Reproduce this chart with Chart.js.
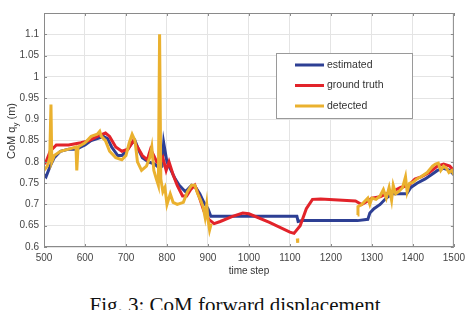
<!DOCTYPE html>
<html>
<head>
<meta charset="utf-8">
<script src="https://cdn.jsdelivr.net/npm/chart.js@4"></script>
<style>
  html, body { margin:0; padding:0; background:#fff; overflow:hidden; }
  #wrap { position:relative; width:470px; height:310px; overflow:hidden; }
  #c { position:absolute; left:0; top:0; }
  #cap { position:absolute; left:0; width:470px; top:293px; text-align:center;
         font-family:"Liberation Serif", "DejaVu Serif", serif; font-size:21px; color:#111; white-space:nowrap; }
</style>
</head>
<body>
<div id="wrap">
  <canvas id="c" width="470" height="276"></canvas>
  <div id="cap">Fig. 3: CoM forward displacement</div>
</div>
<script>
/* ===== data ===== */
const xTicks = [500, 600, 700, 800, 900, 1000, 1100, 1200, 1300, 1400, 1500];
const yTicks = [0.6, 0.65, 0.7, 0.75, 0.8, 0.85, 0.9, 0.95, 1, 1.05, 1.1];

const estX = [500,505,515,525,540,560,580,590,600,615,630,645,655,665,680,690,700,715,722,730,740,755,770,782,788,792,800,810,820,830,845,860,870,880,890,900,907,1000,1117,1120,1130,1265,1290,1295,1305,1320,1335,1350,1385,1395,1410,1430,1445,1460,1475,1490,1500];
const estY = [0.77,0.765,0.79,0.81,0.825,0.83,0.83,0.835,0.84,0.85,0.855,0.86,0.855,0.835,0.815,0.815,0.825,0.845,0.85,0.83,0.81,0.8,0.795,0.785,0.79,0.845,0.8,0.78,0.76,0.745,0.73,0.745,0.74,0.725,0.705,0.69,0.672,0.672,0.672,0.66,0.662,0.662,0.665,0.68,0.69,0.7,0.715,0.725,0.725,0.74,0.75,0.76,0.77,0.78,0.785,0.78,0.77];

const truthX = [500,505,515,530,560,590,610,630,650,660,675,690,705,718,728,740,752,760,768,775,782,790,798,805,815,825,838,848,858,868,878,890,902,915,930,960,985,1000,1050,1100,1110,1125,1140,1155,1175,1260,1275,1290,1300,1320,1335,1350,1370,1390,1405,1420,1440,1460,1475,1490,1500];
const truthY = [0.795,0.8,0.825,0.84,0.84,0.845,0.85,0.86,0.868,0.86,0.835,0.825,0.83,0.85,0.835,0.815,0.805,0.83,0.815,0.8,0.795,0.81,0.78,0.8,0.77,0.745,0.72,0.72,0.735,0.745,0.72,0.685,0.665,0.655,0.66,0.672,0.68,0.678,0.658,0.635,0.632,0.65,0.69,0.712,0.713,0.708,0.7,0.708,0.715,0.718,0.725,0.73,0.74,0.745,0.76,0.765,0.775,0.79,0.795,0.79,0.78];

const detX = [500,508,514,517,519,525,540,560,578,580,583,600,615,630,636,640,650,660,675,690,700,708,715,722,728,738,750,758,763,768,774,779,782,785,790,795,800,808,815,825,840,850,860,868,875,882,888,893,897,900,904,908,1000,1118,1119,1200,1265,1266,1275,1290,1295,1300,1310,1320,1328,1335,1342,1348,1352,1358,1365,1375,1382,1386,1392,1400,1410,1420,1435,1448,1455,1462,1468,1475,1482,1488,1495,1500];
const detY = [0.78,0.79,0.81,0.935,0.8,0.815,0.825,0.83,0.835,0.78,0.835,0.845,0.86,0.865,0.872,0.86,0.85,0.825,0.81,0.805,0.815,0.845,0.865,0.85,0.8,0.78,0.79,0.81,0.835,0.78,0.76,0.745,1.1,0.76,0.73,0.74,0.7,0.725,0.705,0.7,0.705,0.73,0.745,0.745,0.725,0.71,0.695,0.67,0.7,0.665,0.64,0.655,null,0.62,0.61,null,0.675,0.695,0.7,0.715,0.7,0.715,0.712,0.72,0.735,0.715,0.74,0.71,0.745,0.725,0.73,0.74,0.765,0.73,0.75,0.752,0.76,0.765,0.775,0.79,0.795,0.797,0.78,0.79,0.785,0.775,0.78,0.77];

const seriesNames = ['estimated', 'ground truth', 'detected'];
const seriesColors = ['#2d3f94', '#e2232a', '#eab12f'];

const pts = (xs, ys) => xs.map((x, i) => ({ x, y: ys[i] }));
const FONT = '"Liberation Sans", Arial, sans-serif';

/* ===== box, inward ticks, axis titles, legend ===== */
const decor = {
  id: 'decor',
  afterDraw(chart) {
    const { ctx, chartArea: a, scales: { x, y } } = chart;
    ctx.save();
    ctx.strokeStyle = '#8a8a8a';
    ctx.lineWidth = 1;
    ctx.strokeRect(a.left + 0.5, a.top + 0.5, a.right - a.left - 1, a.bottom - a.top - 1);
    ctx.beginPath();
    xTicks.forEach(v => {
      const px = Math.round(x.getPixelForValue(v)) + 0.5;
      ctx.moveTo(px, a.top); ctx.lineTo(px, a.top + 3);
      ctx.moveTo(px, a.bottom); ctx.lineTo(px, a.bottom - 3);
    });
    yTicks.forEach(v => {
      const py = Math.round(y.getPixelForValue(v)) + 0.5;
      ctx.moveTo(a.left, py); ctx.lineTo(a.left + 3, py);
      ctx.moveTo(a.right, py); ctx.lineTo(a.right - 3, py);
    });
    ctx.stroke();

    // axis titles
    ctx.fillStyle = '#333';
    ctx.font = '10px ' + FONT;
    ctx.textAlign = 'center';
    ctx.textBaseline = 'middle';
    ctx.fillText('time step', (a.left + a.right) / 2, 271);

    // y title with subscript
    ctx.translate(12, 131);
    ctx.rotate(-Math.PI / 2);
    ctx.textAlign = 'left';
    const big = '11px ' + FONT, small = '8px ' + FONT;
    ctx.font = big;
    const w1 = ctx.measureText('CoM q').width, w3 = ctx.measureText(' (m)').width;
    ctx.font = small;
    const w2 = ctx.measureText('y').width;
    const sx = -(w1 + w2 + w3) / 2;
    ctx.font = big;  ctx.fillText('CoM q', sx, 0);
    ctx.font = small; ctx.fillText('y', sx + w1, 3.5);
    ctx.font = big;  ctx.fillText(' (m)', sx + w1 + w2, 0);
    ctx.restore();

    // legend box
    ctx.save();
    ctx.fillStyle = '#fff';
    ctx.fillRect(276, 53, 136, 65);
    ctx.strokeStyle = '#9a9a9a';
    ctx.lineWidth = 1;
    ctx.strokeRect(276.5, 53.5, 136, 65);
    ctx.font = '10.5px ' + FONT;
    ctx.textBaseline = 'middle';
    seriesNames.forEach((n, i) => {
      const ly = 65 + i * 20.5;
      ctx.strokeStyle = seriesColors[i];
      ctx.lineWidth = 3;
      ctx.beginPath(); ctx.moveTo(295, ly); ctx.lineTo(324, ly); ctx.stroke();
      ctx.fillStyle = '#333';
      ctx.fillText(n, 327, ly);
    });
    ctx.restore();
  }
};

new Chart(document.getElementById('c'), {
  type: 'line',
  data: {
    datasets: [
      { label: seriesNames[0], data: pts(estX, estY), borderColor: seriesColors[0], order: 3 },
      { label: seriesNames[1], data: pts(truthX, truthY), borderColor: seriesColors[1], order: 2 },
      { label: seriesNames[2], data: pts(detX, detY), borderColor: seriesColors[2], order: 1 }
    ].map(d => ({ ...d, borderWidth: 3, pointRadius: 0, tension: 0, fill: false, spanGaps: false }))
  },
  options: {
    responsive: false,
    animation: false,
    layout: { autoPadding: false, padding: { top: 13, right: 7, left: 0, bottom: 0 } },
    plugins: { legend: { display: false }, tooltip: { enabled: false } },
    scales: {
      x: {
        type: 'linear', min: 500, max: 1500,
        afterFit: s => { s.height = 29; },
        afterBuildTicks: s => { s.ticks = xTicks.map(v => ({ value: v })); },
        grid: { color: '#e4e4e4', tickLength: 0, drawTicks: false },
        border: { display: false },
        ticks: { color: '#444', padding: 5, maxRotation: 0, autoSkip: false,
                 font: { family: FONT, size: 10 }, callback: v => String(v) }
      },
      y: {
        type: 'linear', min: 0.6, max: 1.15,
        afterFit: s => { s.width = 44; },
        afterBuildTicks: s => { s.ticks = yTicks.map(v => ({ value: v })); },
        grid: { color: '#e4e4e4', tickLength: 0, drawTicks: false },
        border: { display: false },
        ticks: { color: '#444', padding: 5, autoSkip: false,
                 font: { family: FONT, size: 10 }, callback: v => String(Number(v.toFixed(2))) }
      }
    }
  },
  plugins: [decor]
});
</script>
</body>
</html>
